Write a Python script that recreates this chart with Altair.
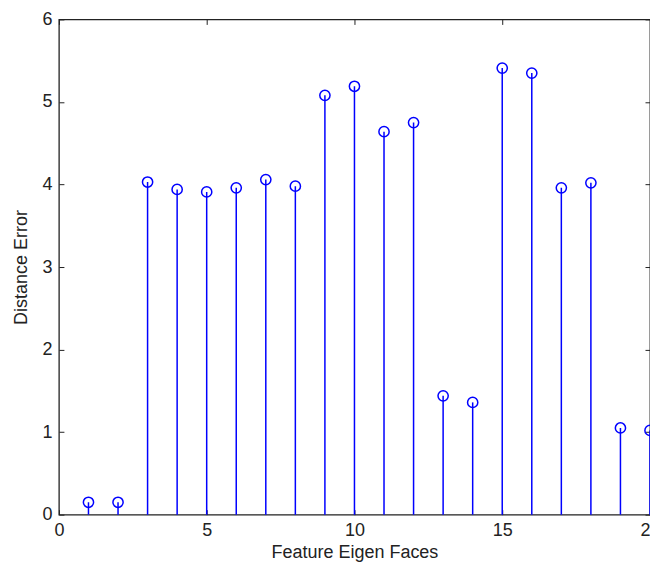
import altair as alt
import pandas as pd

features = list(range(1, 21))
errors = [0.15, 0.15, 4.03, 3.94, 3.91, 3.96, 4.06, 3.98, 5.08, 5.19,
          4.64, 4.75, 1.44, 1.36, 5.41, 5.35, 3.96, 4.02, 1.05, 1.02]

df = pd.DataFrame({"feature": features, "error": errors})

FONT = "Liberation Sans"
BLUE = "#0000ff"
FS = 18

xscale = alt.Scale(domain=[0, 20], nice=False, zero=False)
yscale = alt.Scale(domain=[0, 6], nice=False)

xaxis = alt.Axis(orient="bottom", values=[0, 5, 10, 15, 20], offset=-5, tickSize=5, domain=False,
                 grid=False, labelPadding=7, labelFontSize=FS, labelFont=FONT,
                 labelColor="#222", tickColor="#222", titleFont=FONT, titleFontSize=FS,
                 titleFontWeight="normal", titleColor="#222", titlePadding=4,
                 labelFlush=False, title="Feature Eigen Faces")
yaxis = alt.Axis(orient="left", values=[0, 1, 2, 3, 4, 5, 6], offset=-5, tickSize=5, domain=False,
                 grid=False, labelPadding=7, labelFontSize=FS, labelFont=FONT,
                 labelColor="#222", tickColor="#222", titleFont=FONT, titleFontSize=FS,
                 titleFontWeight="normal", titleColor="#222", titlePadding=11,
                 labelFlush=False, title="Distance Error")

stems = alt.Chart(df).mark_rule(color=BLUE, strokeWidth=1.5).encode(
    x=alt.X("feature:Q", scale=xscale, axis=xaxis),
    y=alt.Y("error:Q", scale=yscale, axis=yaxis),
    y2=alt.datum(0),
)

heads = alt.Chart(df).mark_point(shape="circle", filled=False, color=BLUE,
                                  size=105, strokeWidth=1.5, opacity=1).encode(
    x=alt.X("feature:Q", scale=xscale,
            axis=alt.Axis(orient="top", values=[0, 5, 10, 15, 20], offset=-5,
                          tickSize=5, domain=False, labels=False, grid=False,
                          tickColor="#222", title=None)),
    y=alt.Y("error:Q", scale=yscale,
            axis=alt.Axis(orient="right", values=[0, 1, 2, 3, 4, 5, 6], offset=-5,
                          tickSize=5, domain=False, labels=False, grid=False,
                          tickColor="#222", title=None)),
)

chart = alt.layer(stems, heads).resolve_axis(
    x="independent", y="independent"
).properties(
    width=592, height=496,
    autosize=alt.AutoSizeParams(type="none"),
    padding={"left": 51, "top": 11, "right": 0, "bottom": 48},
).configure_view(stroke="#222", strokeWidth=1.3)

chart.save("out.html", embed_options={"renderer": "svg", "actions": False})
